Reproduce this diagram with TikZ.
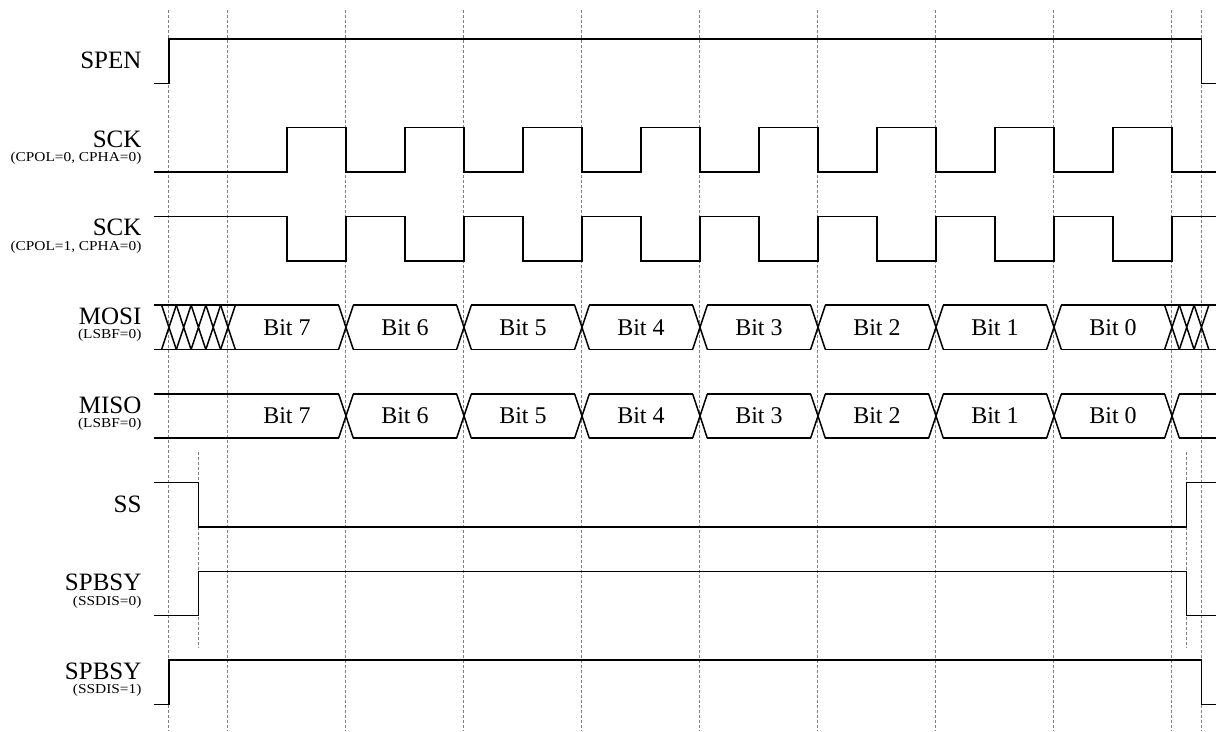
\documentclass[tikz,border=0pt]{standalone}
\usepackage{fontspec}
\setmainfont{Liberation Serif}
\newfontfamily\subfont[FakeStretch=1.13]{Liberation Serif}

\begin{document}
\begin{tikzpicture}[x=29.5pt, y=22.18pt,
    sig/.style={line width=0.75pt},
    guide/.style={gray, line width=0.5pt, dash pattern=on 1.5pt off 1pt},
    lbl/.style={anchor=base east, inner sep=0pt, font=\fontsize{12.5}{15}\selectfont},
    sublbl/.style={anchor=base east, inner sep=0pt, font=\subfont\fontsize{6.8}{8}\selectfont},
    bit/.style={inner sep=0pt, font=\fontsize{12}{14}\selectfont}]
    \useasboundingbox (-3.864,0.879) rectangle (16.797,-15.603);

    % dotted guides
    \foreach \x in {0,2,...,16} {
      \draw[guide] (\x,0.65) -- (\x,-15.6);
    }
    \draw[guide] (-1,0.65) -- (-1,-15.6) (16.5,0.65) -- (16.5,-15.6);
    \draw[guide] (-0.5,-9.3) -- (-0.5,-13.7) (16.25,-9.3) -- (16.25,-13.7);

    % SPEN
    \draw[sig] (-1.25,-1) -- (-1,-1) -- (-1,0) -- (16.5,0) -- (16.5,-1) -- (16.75,-1);

    % SCK
    \draw[sig] (-1.25,-3) \foreach \k in {0,...,7} {
      -- ({2*\k+1},-3) -- ({2*\k+1},-2) -- ({2*\k+2},-2) -- ({2*\k+2},-3) } -- (16.75,-3);
    \draw[sig] (-1.25,-4) \foreach \k in {0,...,7} {
      -- ({2*\k+1},-4) -- ({2*\k+1},-5) -- ({2*\k+2},-5) -- ({2*\k+2},-4) } -- (16.75,-4);

    % MOSI
    \draw[sig] (-1.25,-6) -- (1.875,-6) (-1.25,-7) -- (1.875,-7);
    \foreach \k in {1,...,6} {
      \draw[sig] ({2*\k+0.125},-6) -- ({2*\k+1.875},-6) ({2*\k+0.125},-7) -- ({2*\k+1.875},-7);
    }
    \draw[sig] (14.125,-6) -- (16.75,-6) (14.125,-7) -- (16.75,-7);
    \foreach \c in {-1,-0.75,-0.5,-0.25,0,2,4,6,8,10,12,14,16,16.25,16.5} {
      \draw[sig] ({\c-0.125},-6) -- ({\c+0.125},-7) ({\c-0.125},-7) -- ({\c+0.125},-6);
    }

    % MISO
    \draw[sig] (-1.25,-8) -- (1.875,-8) (-1.25,-9) -- (1.875,-9);
    \foreach \k in {1,...,7} {
      \draw[sig] ({2*\k+0.125},-8) -- ({2*\k+1.875},-8) ({2*\k+0.125},-9) -- ({2*\k+1.875},-9);
    }
    \draw[sig] (16.125,-8) -- (16.75,-8) (16.125,-9) -- (16.75,-9);
    \foreach \c in {2,4,...,16} {
      \draw[sig] ({\c-0.125},-8) -- ({\c+0.125},-9) ({\c-0.125},-9) -- ({\c+0.125},-8);
    }

    % bit labels
    \foreach \k in {0,...,7} {
      \pgfmathtruncatemacro\b{7-\k}
      \node[bit] (mosi\b) at ({2*\k+1},-6.5) {Bit \b};
      \node[bit] (miso\b) at ({2*\k+1},-8.5) {Bit \b};
    }

    % SS
    \draw[sig] (-1.25,-10) -- (-0.5,-10) -- (-0.5,-11) -- (16.25,-11) -- (16.25,-10) -- (16.75,-10);

    % SPBSY
    \draw[sig] (-1.25,-13) -- (-0.5,-13) -- (-0.5,-12) -- (16.25,-12) -- (16.25,-13) -- (16.75,-13);
    \draw[sig] (-1.25,-15) -- (-1,-15) -- (-1,-14) -- (16.5,-14) -- (16.5,-15) -- (16.75,-15);

    % names
    \node[lbl] (spen) at (-1.46,-0.67) {SPEN};
    \node[lbl] (ss) at (-1.46,-10.67) {SS};
    \foreach \r/\nm/\sub in {1/SCK/{(CPOL=0, CPHA=0)}, 2/SCK/{(CPOL=1, CPHA=0)},
        3/MOSI/{(LSBF=0)}, 4/MISO/{(LSBF=0)}, 6/SPBSY/{(SSDIS=0)}, 7/SPBSY/{(SSDIS=1)}} {
      \node[lbl] (name\r) at (-1.46,{-2*\r-0.44}) {\nm};
      \node[sublbl] (sub\r) at (-1.46,{-2*\r-0.76}) {\sub};
    }
  \end{tikzpicture}
\end{document}
